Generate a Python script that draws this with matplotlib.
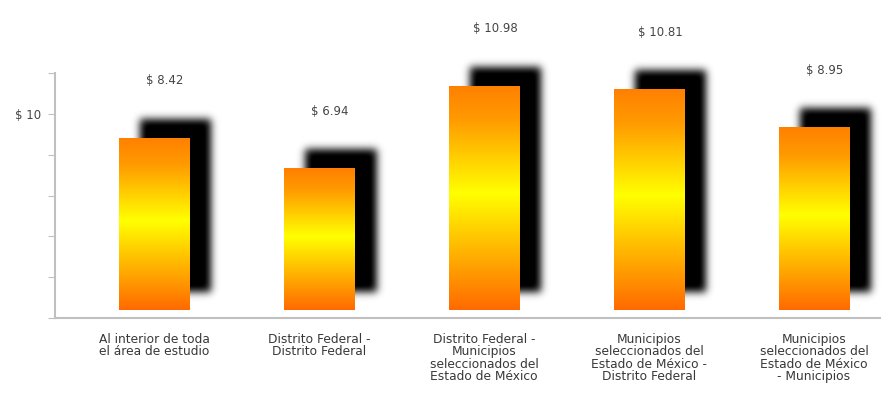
import numpy as np
import matplotlib
matplotlib.use("Agg")
import matplotlib.pyplot as plt
from matplotlib.colors import LinearSegmentedColormap

plt.rcParams["font.family"] = ["DejaVu Sans"]

categories = [
    "Al interior de toda\nel área de estudio",
    "Distrito Federal -\nDistrito Federal",
    "Distrito Federal -\nMunicipios\nseleccionados del\nEstado de México",
    "Municipios\nseleccionados del\nEstado de México -\nDistrito Federal",
    "Municipios\nseleccionados del\nEstado de México\n- Municipios",
]
values = [8.42, 6.94, 10.98, 10.81, 8.95]
value_labels = ["$ 8.42", "$ 6.94", "$ 10.98", "$ 10.81", "$ 8.95"]
y_ticks = [0, 2, 4, 6, 8, 10, 12]

W, H, DPI = 891, 394, 100
XLIM = (-0.6, 4.4)
YLIM = (0, 12)
fig = plt.figure(figsize=(W / DPI, H / DPI), dpi=DPI)
ax = fig.add_axes([55 / W, 76 / H, 825 / W, 245 / H])
ax.set_xlim(*XLIM)
ax.set_ylim(*YLIM)

depth = 0.4      # floor offset of the pseudo-3D bars
bar_w = 0.43
x = np.arange(len(values))

# px per data unit
px_x = ax.transData.transform((1, 0))[0] - ax.transData.transform((0, 0))[0]
px_y = ax.transData.transform((0, 1))[1] - ax.transData.transform((0, 0))[1]

# soft drop shadows
sh_dx, sh_dy, sigma, pad = 21, 18, 4.0, 16
k = np.arange(-3 * int(sigma), 3 * int(sigma) + 1)
kern = np.exp(-k ** 2 / (2 * sigma ** 2))
kern /= kern.sum()
for xi, v in zip(x, values):
    w_px = int(round(bar_w * px_x))
    h_px = int(round(v * px_y))
    mask = np.zeros((h_px + 2 * pad, w_px + 2 * pad))
    mask[pad:pad + h_px, pad:pad + w_px] = 1.0
    mask = np.apply_along_axis(lambda r: np.convolve(r, kern, mode="same"), 1, mask)
    mask = np.apply_along_axis(lambda c: np.convolve(c, kern, mode="same"), 0, mask)
    rgba = np.zeros(mask.shape + (4,))
    rgba[..., 3] = np.clip(mask * 1.05, 0, 1)
    x0 = xi - bar_w / 2 + sh_dx / px_x - pad / px_x
    x1 = x0 + mask.shape[1] / px_x
    y0 = depth + sh_dy / px_y - pad / px_y
    y1 = y0 + mask.shape[0] / px_y
    sh = ax.imshow(rgba, extent=(x0, x1, y0, y1), origin="lower", aspect="auto",
                   interpolation="bilinear", zorder=1)
    sh.set_clip_on(False)

# gradient-filled bars
cmap = LinearSegmentedColormap.from_list(
    "fire", [(0.0, "#ff6a00"), (0.52, "#ffff00"), (0.85, "#ff9a00"), (1.0, "#ff8000")])
grad = np.linspace(0, 1, 256).reshape(-1, 1)
bars = ax.bar(x, values, width=bar_w, bottom=depth, color="none",
              edgecolor="none", zorder=2)
for rect in bars:
    bx, by = rect.get_x(), rect.get_y()
    bw, bh = rect.get_width(), rect.get_height()
    im = ax.imshow(grad, extent=(bx, bx + bw, by, by + bh), origin="lower",
                   aspect="auto", cmap=cmap, interpolation="bicubic", zorder=2)
    im.set_clip_path(rect)

ax.set_xlim(*XLIM)
ax.set_ylim(*YLIM)

# value labels
for rect, lab in zip(bars, value_labels):
    ax.annotate(lab, (rect.get_x() + rect.get_width() / 2, rect.get_y() + rect.get_height()),
                xytext=(8, 41), textcoords="offset points", ha="center", va="center",
                fontsize=8.5, color="#454545", zorder=3)

# axes styling
for s in ("top", "right"):
    ax.spines[s].set_visible(False)
ax.spines["left"].set_color("#c0c0c0")
ax.spines["left"].set_linewidth(1.5)
ax.spines["bottom"].set_color("#c0c0c0")
ax.spines["bottom"].set_linewidth(1.5)
ax.set_yticks(y_ticks)
ax.set_yticklabels(["$ 10" if t == 10 else "" for t in y_ticks])
ax.tick_params(axis="y", length=5, color="#c0c0c0", labelsize=8.5, labelcolor="#454545", pad=5)
ax.set_xticks(x)
ax.set_xticklabels(categories, fontsize=8.8, color="#383838", linespacing=0.92)
ax.tick_params(axis="x", length=0, pad=11)

fig.savefig("out.png", dpi=DPI, facecolor="white")
